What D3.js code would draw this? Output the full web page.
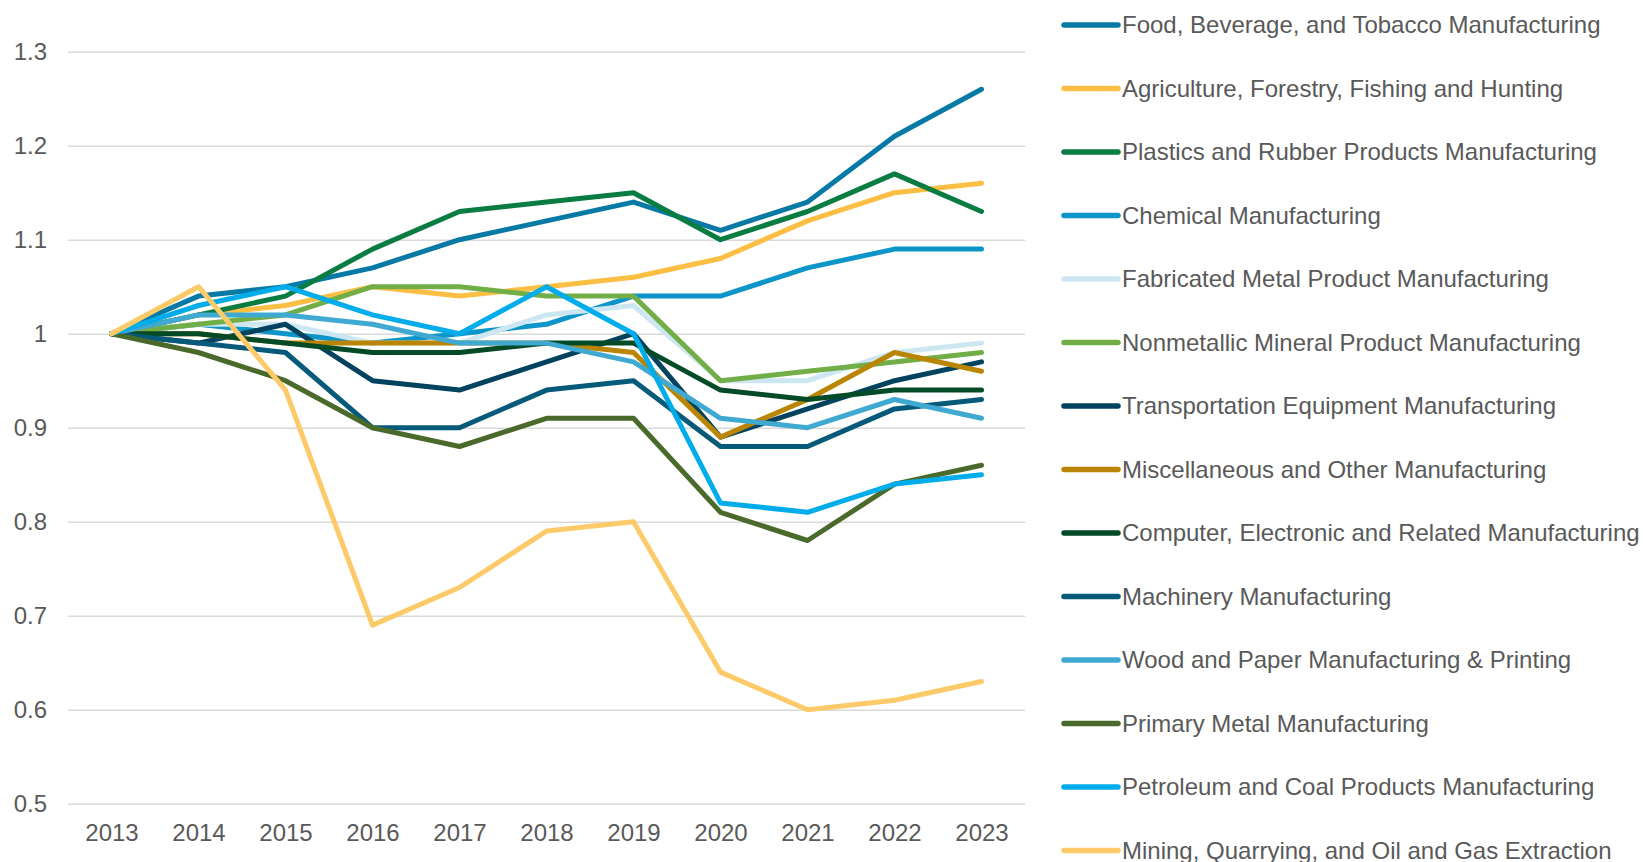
<!DOCTYPE html>
<html>
<head>
<meta charset="utf-8">
<script src="https://cdn.jsdelivr.net/npm/d3@7"></script>
<style>
  html, body { margin: 0; padding: 0; background: #ffffff; }
  svg { display: block; }
  text { font-family: "Liberation Sans", Arial, sans-serif; }
</style>
</head>
<body>
<svg id="chart" width="1643" height="862"></svg>
<script>
// Years on the x axis
const years = ["2013", "2014", "2015", "2016", "2017", "2018", "2019", "2020", "2021", "2022", "2023"];

// Y axis ticks and their labels
const yTicks = [0.5, 0.6, 0.7, 0.8, 0.9, 1.0, 1.1, 1.2, 1.3];
const yTickLabels = ["0.5", "0.6", "0.7", "0.8", "0.9", "1", "1.1", "1.2", "1.3"];

// Industry names, in legend / drawing order
const industries = [
  "Food, Beverage, and Tobacco Manufacturing",
  "Agriculture, Forestry, Fishing and Hunting",
  "Plastics and Rubber Products Manufacturing",
  "Chemical Manufacturing",
  "Fabricated Metal Product Manufacturing",
  "Nonmetallic Mineral Product Manufacturing",
  "Transportation Equipment Manufacturing",
  "Miscellaneous and Other Manufacturing",
  "Computer, Electronic and Related Manufacturing",
  "Machinery Manufacturing",
  "Wood and Paper Manufacturing & Printing",
  "Primary Metal Manufacturing",
  "Petroleum and Coal Products Manufacturing",
  "Mining, Quarrying, and Oil and Gas Extraction"
];

// Index values (2013 = 1) for each industry
const food           = [1.00, 1.04, 1.05, 1.07, 1.10, 1.12, 1.14, 1.11, 1.14, 1.21, 1.26];
const agriculture    = [1.00, 1.02, 1.03, 1.05, 1.04, 1.05, 1.06, 1.08, 1.12, 1.15, 1.16];
const plastics       = [1.00, 1.02, 1.04, 1.09, 1.13, 1.14, 1.15, 1.10, 1.13, 1.17, 1.13];
const chemical       = [1.00, 1.01, 1.00, 0.99, 1.00, 1.01, 1.04, 1.04, 1.07, 1.09, 1.09];
const fabricated     = [1.00, 1.01, 1.01, 0.99, 0.99, 1.02, 1.03, 0.95, 0.95, 0.98, 0.99];
const nonmetallic    = [1.00, 1.01, 1.02, 1.05, 1.05, 1.04, 1.04, 0.95, 0.96, 0.97, 0.98];
const transportation = [1.00, 0.99, 1.01, 0.95, 0.94, 0.97, 1.00, 0.89, 0.92, 0.95, 0.97];
const miscellaneous  = [1.00, 1.00, 0.99, 0.99, 0.99, 0.99, 0.98, 0.89, 0.93, 0.98, 0.96];
const computer       = [1.00, 1.00, 0.99, 0.98, 0.98, 0.99, 0.99, 0.94, 0.93, 0.94, 0.94];
const machinery      = [1.00, 0.99, 0.98, 0.90, 0.90, 0.94, 0.95, 0.88, 0.88, 0.92, 0.93];
const woodPaper      = [1.00, 1.02, 1.02, 1.01, 0.99, 0.99, 0.97, 0.91, 0.90, 0.93, 0.91];
const primaryMetal   = [1.00, 0.98, 0.95, 0.90, 0.88, 0.91, 0.91, 0.81, 0.78, 0.84, 0.86];
const petroleum      = [1.00, 1.03, 1.05, 1.02, 1.00, 1.05, 1.00, 0.82, 0.81, 0.84, 0.85];
const mining         = [1.00, 1.05, 0.94, 0.69, 0.73, 0.79, 0.80, 0.64, 0.60, 0.61, 0.63];

const seriesValues = [food, agriculture, plastics, chemical, fabricated, nonmetallic,
  transportation, miscellaneous, computer, machinery, woodPaper, primaryMetal, petroleum, mining];

const colors = ["#0779a5", "#fcbf44", "#087c41", "#0b95c9", "#cce7f2", "#72ae48", "#01435f",
  "#ba8502", "#034a26", "#055a7a", "#40a9d2", "#4a6a2b", "#00adea", "#fdca69"];

const series = industries.map((name, i) => ({ name, color: colors[i], values: seriesValues[i] }));

// Layout
const plot = { left: 68, right: 1025, top: 51.7, bottom: 803.7 };
const textColor = "#595959";
const fontSize = 24;

const svg = d3.select("#chart");

const x = d3.scalePoint().domain(years).range([plot.left, plot.right]).padding(0.5);
const y = d3.scaleLinear().domain([0.5, 1.3]).range([plot.bottom, plot.top]);

// Horizontal gridlines with y tick labels
const yAxis = svg.append("g")
  .attr("transform", `translate(${plot.left},0)`)
  .call(d3.axisLeft(y)
    .tickValues(yTicks)
    .tickFormat((d, i) => yTickLabels[i])
    .tickSize(-(plot.right - plot.left))
    .tickPadding(21));
yAxis.select(".domain").remove();
yAxis.selectAll(".tick line").attr("stroke", "#d9d9d9").attr("stroke-width", 1.5);
yAxis.selectAll(".tick text")
  .attr("fill", textColor)
  .attr("font-size", fontSize)
  .attr("font-family", "Liberation Sans, Arial, sans-serif");

// Year labels
const xAxis = svg.append("g")
  .attr("transform", `translate(0,${plot.bottom})`)
  .call(d3.axisBottom(x).tickSize(0).tickPadding(20));
xAxis.select(".domain").remove();
xAxis.selectAll(".tick text")
  .attr("fill", textColor)
  .attr("font-size", fontSize)
  .attr("font-family", "Liberation Sans, Arial, sans-serif");

// Lines
const line = d3.line()
  .x((d, i) => x(years[i]))
  .y(d => y(d));

svg.append("g")
  .selectAll("path")
  .data(series)
  .join("path")
  .attr("d", d => line(d.values))
  .attr("fill", "none")
  .attr("stroke", d => d.color)
  .attr("stroke-width", 5)
  .attr("stroke-linejoin", "round")
  .attr("stroke-linecap", "round");

// Legend
const legendTop = 25;
const legendStep = 63.5;
const legend = svg.append("g")
  .selectAll("g")
  .data(series)
  .join("g")
  .attr("transform", (d, i) => `translate(0,${legendTop + i * legendStep})`);

legend.append("line")
  .attr("x1", 1064).attr("x2", 1118)
  .attr("y1", 0).attr("y2", 0)
  .attr("stroke", d => d.color)
  .attr("stroke-width", 5.5)
  .attr("stroke-linecap", "round");

legend.append("text")
  .attr("x", 1122)
  .attr("y", 0)
  .attr("dy", "0.35em")
  .attr("fill", textColor)
  .attr("font-size", fontSize)
  .text(d => d.name);
</script>
</body>
</html>
